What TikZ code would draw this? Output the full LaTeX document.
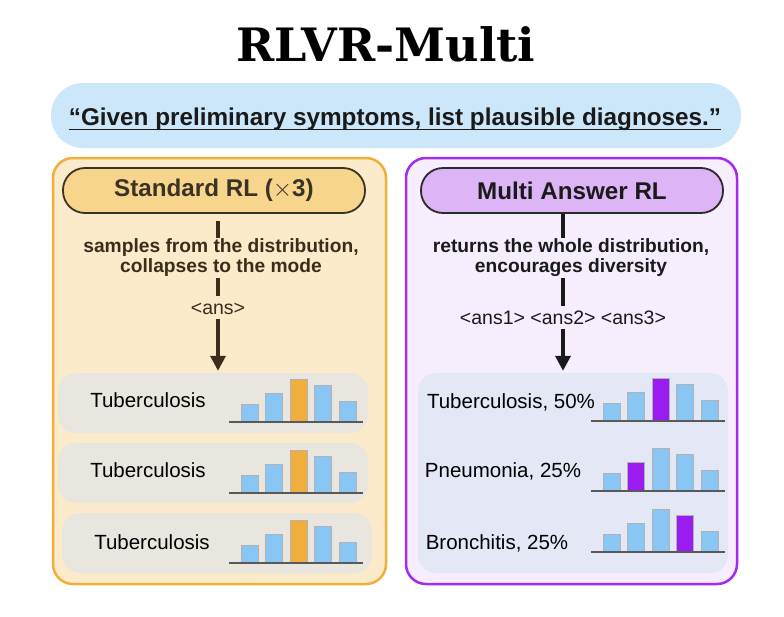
\documentclass[tikz,border=0pt]{standalone}
\usepackage{fontspec}
\setmainfont{Liberation Sans}
\newfontfamily\titlefont{DejaVu Serif}
\usetikzlibrary{arrows.meta}
\definecolor{bannerfill}{HTML}{CDE7FA}
\definecolor{lpanelfill}{HTML}{FBEBCB}
\definecolor{lpanelline}{HTML}{F2AE3A}
\definecolor{lpillfill}{HTML}{F8D58C}
\definecolor{lpillline}{HTML}{3B3226}
\definecolor{lrowfill}{HTML}{E9E6DF}
\definecolor{rpanelfill}{HTML}{F6EEFC}
\definecolor{rpanelline}{HTML}{A12BF0}
\definecolor{rpillfill}{HTML}{DDB4F6}
\definecolor{rpillline}{HTML}{2A2A2A}
\definecolor{rrowfill}{HTML}{E3E7F6}
\definecolor{barblue}{HTML}{8AC6F3}
\definecolor{barorange}{HTML}{F0AE3E}
\definecolor{barpurple}{HTML}{9A1CF0}
\definecolor{ltext}{HTML}{3A2E1B}
\definecolor{rtext}{HTML}{1A1A1A}
\newcommand\histo[4]{%
  \foreach \h [count=\i from 0] in {18,29,43,37,21}{
    \pgfmathsetmacro\bx{#1+12+24.5*\i}
    \ifnum\i=#3 \def\bc{#4}\else\def\bc{barblue}\fi
    \draw[histbar, fill=\bc] (\bx,#2) rectangle ++(17,-\h);
  }
  \draw[histbase] (#1,#2) -- ++(134,0);
}
\begin{document}
\begin{tikzpicture}[x=1pt,y=-1pt,
  histbar/.style={draw=black!30, line width=0.6pt},
  histbase/.style={draw=black!65, line width=1.3pt},
  banner/.style={fill=bannerfill, rounded corners=32pt, minimum width=690pt, minimum height=65pt},
  lpanel/.style={fill=lpanelfill, draw=lpanelline, line width=2.5pt, rounded corners=20pt},
  rpanel/.style={fill=rpanelfill, draw=rpanelline, line width=2.5pt, rounded corners=20pt},
  pill/.style={line width=1.8pt, rounded corners=22pt, minimum width=302pt, minimum height=45pt,
    font=\bfseries\fontsize{24.2}{27}\selectfont},
  desc/.style={font=\bfseries\fontsize{19.2}{20}\selectfont, align=center, inner sep=1pt},
  anstext/.style={font=\fontsize{19.5}{22}\selectfont, inner sep=1pt},
  rowbox/.style={rounded corners=18pt, minimum width=310pt, minimum height=60pt},
  rowlabel/.style={font=\fontsize{20.5}{24}\selectfont, inner sep=0pt},
  seg/.style={line width=3.5pt},
  bigarrow/.style={line width=3.5pt, -{Triangle[length=15pt,width=15pt]}},
]
\useasboundingbox (0,0) rectangle (784,616);
\fill[white] (0,0) rectangle (784,616);
% title
\node[font=\titlefont\bfseries\fontsize{46}{50}\selectfont, anchor=base, inner sep=0pt] (title) at (386,61) {RLVR-Multi};
% banner
\node[banner] (banner) at (396,115.5) {};
\node[anchor=base, inner sep=0pt, text=rtext, font=\bfseries\fontsize{24.3}{28}\selectfont] (quote) at (395,125)
  {“Given preliminary symptoms, list plausible diagnoses.”};
\draw[line width=1.6pt, rtext] ([yshift=-4.5pt]quote.base west) -- ([yshift=-4.5pt]quote.base east);
% panels
\node[lpanel, minimum width=333pt, minimum height=426pt] (lpanel) at (219.5,371) {};
\node[rpanel, minimum width=331pt, minimum height=426pt] (rpanel) at (571.5,371) {};
% left column
\node[pill, fill=lpillfill, draw=lpillline, text=lpillline] (lpill) at (214,190.5) {Standard RL ($\times$3)};
\node[desc, text=ltext] (ldesc) at (221,258) {samples from the distribution,\\collapses to the mode};
\node[anstext, text=ltext] (lans) at (218,309) {<ans>};
\draw[seg, ltext, shorten <=7pt] (lpill.south -| lans) -- (ldesc.north -| lans);
\draw[seg, ltext, shorten >=6pt] (ldesc.south -| lans) -- (lans.north);
\node[rowbox, fill=lrowfill] (lrow1) at (213,403) {};
\node[rowbox, fill=lrowfill] (lrow2) at (213,473) {};
\node[rowbox, fill=lrowfill] (lrow3) at (217,543) {};
\draw[bigarrow, ltext, shorten <=3pt, shorten >=2pt] (lans.south) -- (lrow1.north -| lans);
\node[rowlabel] (lt1) at (148,400) {Tuberculosis};
\node[rowlabel] (lt2) at (148,470) {Tuberculosis};
\node[rowlabel] (lt3) at (152,542) {Tuberculosis};
\histo{229}{422}{2}{barorange}
\histo{229}{493}{2}{barorange}
\histo{229}{563}{2}{barorange}
% right column
\node[pill, fill=rpillfill, draw=rpillline, text=rtext] (rpill) at (572,190.5) {Multi Answer RL};
\node[desc, text=rtext] (rdesc) at (571,258) {returns the whole distribution,\\encourages diversity};
\node[anstext, text=rtext] (rans) at (563,318) {<ans1> <ans2> <ans3>};
\draw[seg, rtext, shorten <=0pt] (rpill.south -| rans) -- (rdesc.north -| rans);
\draw[seg, rtext, shorten >=4pt] (rdesc.south -| rans) -- (rans.north);
\node[rowbox, fill=rrowfill, minimum height=200pt] (rbox) at (573,473) {};
\draw[bigarrow, rtext, shorten <=3pt, shorten >=2pt] (rans.south) -- (rbox.north -| rans);
\node[rowlabel] (rt1) at (511,402) {Tuberculosis, 50\%};
\node[rowlabel] (rt2) at (503,471) {Pneumonia, 25\%};
\node[rowlabel] (rt3) at (497,543) {Bronchitis, 25\%};
\histo{591}{421}{2}{barpurple}
\histo{591}{491}{1}{barpurple}
\histo{591}{552}{3}{barpurple}
\end{tikzpicture}
\end{document}
